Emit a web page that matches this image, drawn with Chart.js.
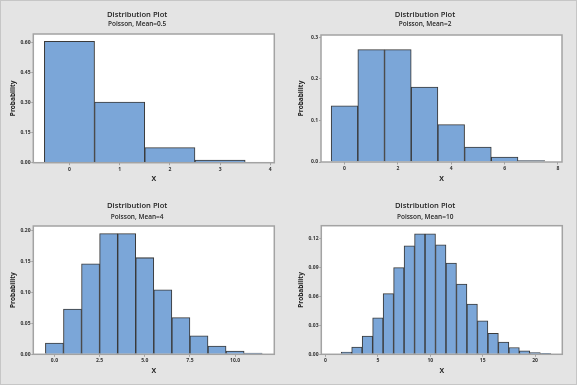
<!DOCTYPE html>
<html>
<head>
<meta charset="utf-8">
<script src="https://cdn.jsdelivr.net/npm/chart.js@4.4.1/dist/chart.umd.min.js"></script>
<style>
  html, body { margin: 0; padding: 0; }
  body { width: 577px; height: 385px; background: #e4e4e4; position: relative; overflow: hidden; }
  #frame { position: absolute; left: 0; top: 0; width: 575px; height: 383px; border: 1px solid #c6c6c6; }
  canvas { position: absolute; }
</style>
</head>
<body>
<div id="frame"></div>
<canvas id="c1" width="288" height="190" style="left:0;top:0;width:288px;height:190px"></canvas>
<canvas id="c2" width="289" height="190" style="left:288px;top:0;width:289px;height:190px"></canvas>
<canvas id="c3" width="288" height="195" style="left:0;top:190px;width:288px;height:195px"></canvas>
<canvas id="c4" width="289" height="195" style="left:288px;top:190px;width:289px;height:195px"></canvas>
<script>
// ---- data ----
const titleText = "Distribution Plot";
const subtitles = ["Poisson, Mean=0.5", "Poisson, Mean=2", "Poisson, Mean=4", "Poisson, Mean=10"];

const x1 = [0, 1, 2, 3];
const p1 = [0.6065, 0.3033, 0.0758, 0.0126];
const x2 = [0, 1, 2, 3, 4, 5, 6, 7];
const p2 = [0.1353, 0.2707, 0.2707, 0.1804, 0.0902, 0.0361, 0.0120, 0.0034];
const x3 = [0, 1, 2, 3, 4, 5, 6, 7, 8, 9, 10, 11];
const p3 = [0.0183, 0.0733, 0.1465, 0.1954, 0.1954, 0.1563, 0.1042, 0.0595, 0.0298, 0.0132, 0.0053, 0.0019];
const x4 = [2, 3, 4, 5, 6, 7, 8, 9, 10, 11, 12, 13, 14, 15, 16, 17, 18, 19, 20, 21];
const p4 = [0.0023, 0.0076, 0.0189, 0.0378, 0.0631, 0.0901, 0.1126, 0.1251, 0.1251, 0.1137,
            0.0948, 0.0729, 0.0521, 0.0347, 0.0217, 0.0128, 0.0071, 0.0037, 0.0019, 0.0009];

const xTicks1 = [0, 1, 2, 3, 4];
const yTicks1 = [0, 0.15, 0.30, 0.45, 0.60];
const xTicks2 = [0, 2, 4, 6, 8];
const yTicks2 = [0, 0.1, 0.2, 0.3];
const xTicks3 = [0, 2.5, 5, 7.5, 10];
const yTicks3 = [0, 0.05, 0.10, 0.15, 0.20];
const xTicks4 = [0, 5, 10, 15, 20];
const yTicks4 = [0, 0.03, 0.06, 0.09, 0.12];

// ---- rendering ----
const FONT = "'Open Sans', 'Noto Sans', sans-serif";
const AXIS_COLOR = '#a3a3a3';

const framePlugin = {
  id: 'plotFrame',
  beforeDraw(chart) {
    const a = chart.chartArea, ctx = chart.ctx;
    ctx.save();
    ctx.fillStyle = '#ffffff';
    ctx.fillRect(a.left, a.top, a.right - a.left, a.bottom - a.top);
    ctx.restore();
  },
  afterDatasetsDraw(chart) {
    const a = chart.chartArea, ctx = chart.ctx;
    ctx.save();
    ctx.strokeStyle = AXIS_COLOR;
    ctx.lineWidth = 1.5;
    ctx.strokeRect(a.left, a.top, a.right - a.left, a.bottom - a.top);
    ctx.restore();
  }
};

function panel(id, sub, xs, ps, xt, yt, xDec, yDec, geo) {
  new Chart(document.getElementById(id), {
    type: 'bar',
    data: {
      datasets: [{
        data: xs.map((x, i) => ({ x: x, y: ps[i] })),
        backgroundColor: '#7ba6d8',
        borderColor: '#3a3a3a',
        borderWidth: 1.05,
        borderSkipped: 'start',
        barPercentage: 1,
        categoryPercentage: 1
      }]
    },
    options: {
      responsive: false,
      animation: false,
      events: [],
      layout: { padding: { left: 0, right: geo.padR, top: 0, bottom: 0 } },
      plugins: {
        legend: { display: false },
        tooltip: { enabled: false },
        title: {
          display: true, text: titleText, color: '#1e1e1e',
          font: { family: FONT, size: 7.6, weight: '600', lineHeight: 1 },
          padding: { top: geo.tCenter - 3.8, bottom: 0 }
        },
        subtitle: {
          display: true, text: sub, color: '#262626',
          font: { family: FONT, size: 6.5, weight: '600', lineHeight: 1 },
          padding: { top: geo.sCenter - 3.25 - geo.tCenter - 3.8, bottom: geo.top - geo.sCenter - 3.25 }
        }
      },
      scales: {
        x: {
          type: 'linear', offset: false,
          min: geo.xmin, max: geo.xmax,
          afterBuildTicks: s => { s.ticks = xt.map(v => ({ value: v })); },
          afterFit: s => { s.height = geo.xH; },
          grid: { display: true, drawOnChartArea: false, drawTicks: true, tickLength: 2.5, tickColor: AXIS_COLOR, offset: false },
          border: { display: false },
          ticks: {
            padding: 1.2, color: '#333', maxRotation: 0, autoSkip: false,
            font: { family: FONT, size: 5, weight: 'bold' },
            callback: v => Number(v).toFixed(xDec)
          },
          title: {
            display: true, text: 'X', color: '#222',
            font: { family: FONT, size: 7, weight: 'bold', lineHeight: 1.2 },
            padding: { top: 0, bottom: geo.xTitle - 4.2 }
          }
        },
        y: {
          type: 'linear', min: 0, max: geo.ymax,
          afterBuildTicks: s => { s.ticks = yt.map(v => ({ value: v })); },
          afterFit: s => { s.width = geo.left; },
          grid: { display: true, drawOnChartArea: false, drawTicks: true, tickLength: 2, tickColor: AXIS_COLOR },
          border: { display: false },
          ticks: {
            padding: 0.8, color: '#333', autoSkip: false,
            font: { family: FONT, size: 5, weight: 'bold' },
            callback: v => Number(v).toFixed(yDec)
          },
          title: {
            display: true, text: 'Probability', color: '#222',
            font: { family: FONT, size: 6.5, weight: 'bold', lineHeight: 1.2 },
            padding: { top: geo.yTitle - 3.9, bottom: 0 }
          }
        }
      }
    },
    plugins: [framePlugin]
  });
}

panel('c1', subtitles[0], x1, p1, xTicks1, yTicks1, 0, 2,
  { padR: 13.7, left: 33.3, top: 34, xH: 27.3, tCenter: 15, sCenter: 24, xTitle: 11.3, yTitle: 13,
    xmin: -0.72, xmax: 4.08, ymax: 0.6435 });
panel('c2', subtitles[1], x2, p2, xTicks2, yTicks2, 0, 1,
  { padR: 15, left: 33, top: 35, xH: 28, tCenter: 15, sCenter: 24, xTitle: 11.3, yTitle: 13,
    xmin: -0.88, xmax: 8.15, ymax: 0.306 });
panel('c3', subtitles[2], x3, p3, xTicks3, yTicks3, 1, 2,
  { padR: 13.7, left: 33.3, top: 36, xH: 30.7, tCenter: 16, sCenter: 27, xTitle: 14, yTitle: 13,
    xmin: -1.17, xmax: 12.17, ymax: 0.2076 });
panel('c4', subtitles[3], x4, p4, xTicks4, yTicks4, 0, 2,
  { padR: 14.7, left: 33.3, top: 35.7, xH: 30.7, tCenter: 16, sCenter: 27, xTitle: 14, yTitle: 13,
    xmin: -0.4, xmax: 22.6, ymax: 0.1335 });
</script>
</body>
</html>
